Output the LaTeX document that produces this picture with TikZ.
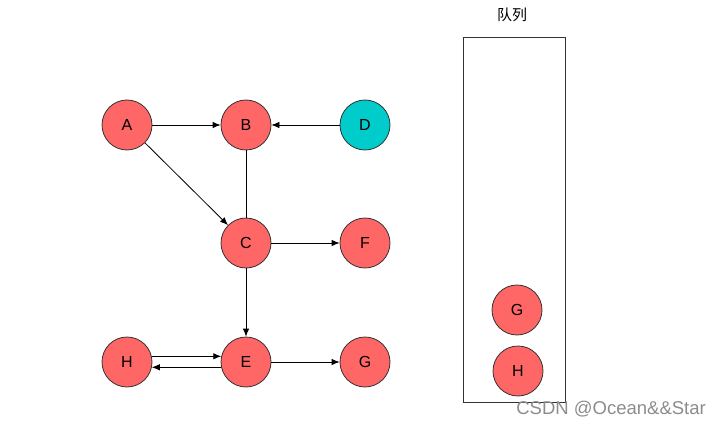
\documentclass[tikz,border=0pt]{standalone}
\usepackage{fontspec}
\setmainfont{Liberation Sans}
\newfontfamily\cjk{Noto Sans CJK SC}
\usetikzlibrary{shapes,arrows,arrows.meta}
\definecolor{vred}{HTML}{FF6666}
\definecolor{vteal}{HTML}{00CCCC}
\tikzstyle{vertex} = [draw=black!80, circle, fill=vred, minimum size=50pt, inner sep=0pt, line width=0.8pt, font=\fontsize{16}{18}\selectfont]
\tikzstyle{start} = [vertex, fill=vteal]
\tikzstyle{line} = [draw, line width=0.8pt, -{Latex[length=8pt,width=6.5pt]}]
\tikzstyle{queue} = [draw=black!80, line width=0.8pt]

\begin{document}
\begin{tikzpicture}[x=1pt, y=-1pt, node distance = 119pt]
    \useasboundingbox (0,0) rectangle (720,425);

    % Place nodes
    \node [vertex] (a) at (127,125) {A};
    \node [vertex, right of=a] (b) {B};
    \node [start, right of=b] (d) {D};
    \node [vertex, below of=b, node distance = 118pt] (c) {C};
    \node [vertex, right of=c] (f) {F};
    \node [vertex, below of=c, node distance = 119pt] (e) {E};
    \node [vertex, left of=e] (h) {H};
    \node [vertex, right of=e] (g) {G};

    % The queue on the right
    \draw [queue] (463,37) rectangle (565,402);
    \node (queue-title) at (512,15) {\cjk\fontsize{15}{17}\selectfont 队列};
    \node [vertex] (queue-g) at (517,310) {G};
    \node [vertex] (queue-h) at (518,371) {H};

    % Draw edges
    \path [line] (a) -- (b);
    \path [line] (d) -- (b);
    \path [line] (a) -- (c);
    \path [draw, line width=0.8pt] (b) -- (c);
    \path [line] (c) -- (f);
    \path [line] (c) -- (e);
    \path [line] (h.13) -- (e.167);
    \path [line] (e.192) -- (h.-12);
    \path [line] (e) -- (g);

    % Watermark
    \node [anchor=east, inner sep=0pt, text=black!45, font=\fontsize{18.5}{20}\selectfont] (mark) at (706,409) {CSDN @Ocean\&\&Star};
\end{tikzpicture}
\end{document}
